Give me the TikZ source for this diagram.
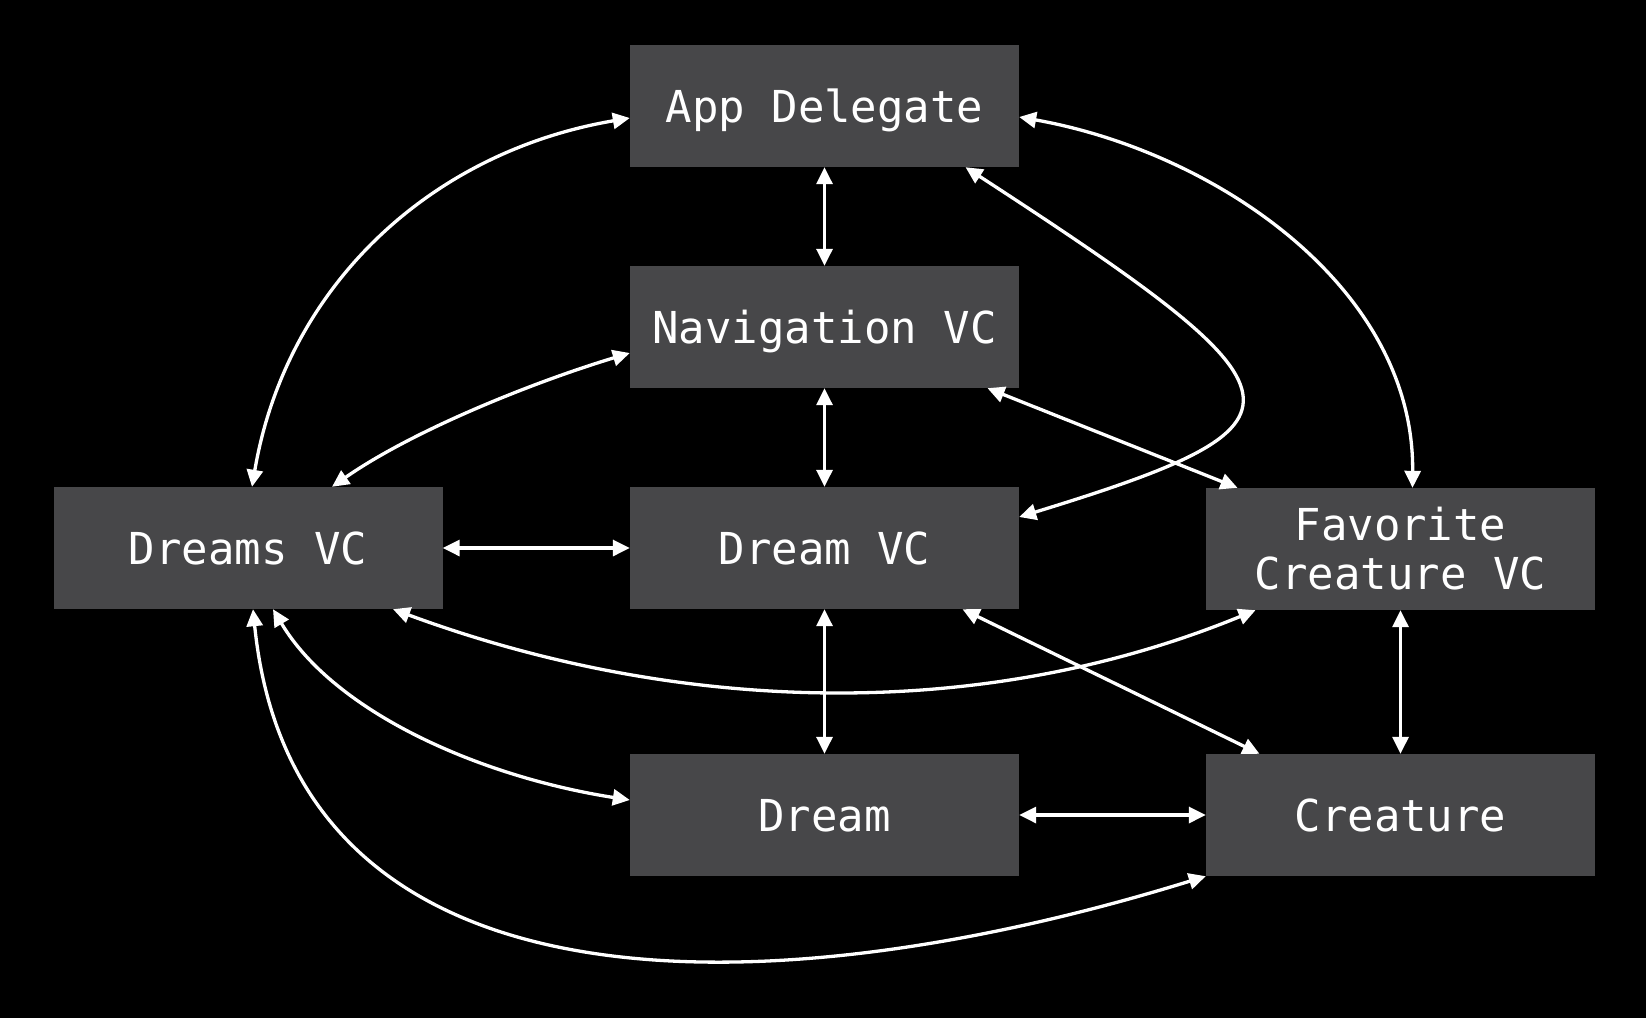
\documentclass[tikz,border=0pt]{standalone}
\usepackage{fontspec}
\newfontfamily\boxfont{DejaVu Sans Mono}
\usetikzlibrary{arrows.meta,calc}
\definecolor{boxgray}{RGB}{71,71,73}
\begin{document}
\begin{tikzpicture}[x=1pt,y=-1pt,
  cbox/.style={fill=boxgray,draw=none,minimum width=389pt,minimum height=122pt,inner sep=0pt,
    text=white,font=\boxfont\fontsize{44}{49}\selectfont,text height=32pt,text depth=0pt,align=center},
  conn/.style={draw=white,line width=3.3pt,{Triangle[length=17pt,width=16pt]}-{Triangle[length=17pt,width=16pt]}}]
\fill[black] (0,0) rectangle (1646,1018);
\useasboundingbox (0,0) rectangle (1646,1018);

\node[cbox] (AD) at (824.5,106) {App Delegate};
\node[cbox] (NV) at (824.5,327) {Navigation VC};
\node[cbox] (DS) at (248,548) {Dreams VC};
\node[cbox] (DV) at (824.5,548) {Dream VC};
\node[cbox,text height=81pt,text depth=0pt] (FC) at (1400.5,549) {Favorite\\Creature VC};
\node[cbox] (DR) at (824.5,815) {Dream};
\node[cbox] (CR) at (1400.5,815) {Creature};

% straight connectors
\draw[conn] (AD.south) -- (NV.north);
\draw[conn] (NV.south) -- (DV.north);
\draw[conn] (DV.south) -- (DR.north);
\draw[conn] (FC.south) -- (CR.north);
\draw[conn] (DS.east) -- (DV.west);
\draw[conn] (DR.east) -- (CR.west);
\draw[conn] ([xshift=163pt]NV.south) -- ([xshift=-163pt]FC.north);
\draw[conn] ([xshift=138pt]DV.south) -- ([xshift=-141pt]CR.north);

% curved connectors
\draw[conn] ([xshift=4pt]DS.north) .. controls +(34,-200) and +(-200,34) .. ([yshift=-12pt]AD.west);
\draw[conn] ([xshift=84pt]DS.north) .. controls +(82,-57) and +(-96,29) .. ([yshift=-26pt]NV.west);
\draw[conn] ([yshift=-11pt]AD.east) .. controls +(197,35) and +(2,-200) .. ([xshift=12pt]FC.north);
\draw[conn] ([xshift=141pt]AD.south) .. controls +(352,229) and +(306,-94) .. ([yshift=31pt]DV.east);
\draw[conn] ([xshift=145pt]DS.south) .. controls +(282,104) and +(-278,114) .. ([xshift=-145pt]FC.south);
\draw[conn] ([xshift=25pt]DS.south) .. controls +(62,104) and +(-148,-23) .. ([yshift=15pt]DR.west);
\draw[conn] ([xshift=5pt]DS.south) .. controls +(42,417) and +(-430,133) .. (CR.south west);
\end{tikzpicture}
\end{document}
